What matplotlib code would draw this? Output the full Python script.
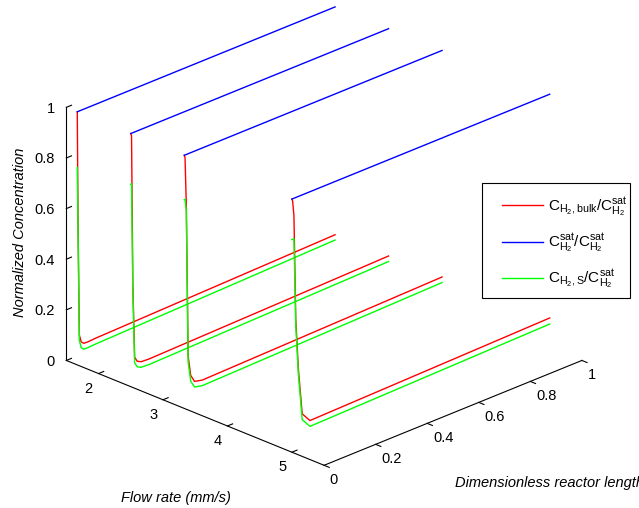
import numpy as np
import matplotlib
matplotlib.use("Agg")
import matplotlib.pyplot as plt
from matplotlib.legend_handler import HandlerLine2D
from matplotlib.patches import Rectangle

plt.rcParams['font.family'] = ['Liberation Sans', 'DejaVu Sans']
plt.rcParams['font.size'] = 10.5
plt.rcParams['mathtext.fontset'] = 'custom'
plt.rcParams['mathtext.rm'] = 'Liberation Sans'
plt.rcParams['mathtext.it'] = 'Liberation Sans:italic'

# flow rates (mm/s) of the four runs
flow_rates = [1.67, 2.5, 3.33, 5.0]

# dimensionless reactor length sample points
length = [0.0, 0.003, 0.008, 0.015, 0.025, 0.04, 0.07, 1.0]

# bulk H2 concentration, normalised by saturation
c_bulk = [
    [1.00, 0.55, 0.115, 0.085, 0.075, 0.074, 0.076, 0.100],
    [1.00, 0.99, 0.40, 0.110, 0.090, 0.082, 0.080, 0.102],
    [1.00, 0.99, 0.80, 0.200, 0.120, 0.090, 0.083, 0.105],
    [1.00, 0.99, 0.93, 0.520, 0.320, 0.135, 0.096, 0.116],
]

# surface H2 concentration, normalised by saturation
c_surf = [
    [0.78, 0.53, 0.095, 0.062, 0.052, 0.051, 0.053, 0.079],
    [0.80, 0.80, 0.38, 0.088, 0.068, 0.060, 0.058, 0.080],
    [0.825, 0.825, 0.78, 0.178, 0.097, 0.068, 0.061, 0.083],
    [0.84, 0.84, 0.84, 0.500, 0.300, 0.112, 0.073, 0.092],
]

# saturation concentration over itself
sat_length = [0.0, 1.0]
c_sat = [1.0, 1.0]

labels = [r'$\mathrm{C_{H_2,bulk}/C_{H_2}^{sat}}$',
          r'$\mathrm{C_{H_2}^{sat}/C_{H_2}^{sat}}$',
          r'$\mathrm{C_{H_2,S}/C_{H_2}^{sat}}$']

fig = plt.figure(figsize=(6.39, 5.08), dpi=100)
size = 600
cx, cy = 316, 242
ax = fig.add_axes([(cx - size / 2) / 639, (508 - cy - size / 2) / 508, size / 639, size / 508],
                  projection='3d', computed_zorder=False)
ax.set_proj_type('ortho')
ax.view_init(elev=24, azim=-45)
ax.set_box_aspect((1, 1, 0.76), zoom=0.947)

# plot order red, blue, green so the surface curve sits on top
red, green, blue = '#ff0000', '#00ff00', '#0000ff'
for i, f in enumerate(flow_rates):
    n = len(length)
    h1, = ax.plot(np.full(n, f), length, c_bulk[i], color=red, lw=1.0)
    h2, = ax.plot(np.full(2, f), sat_length, c_sat, color=blue, lw=1.0)
    h3, = ax.plot(np.full(n, f), length, c_surf[i], color=green, lw=1.0)

ax.set_xlim(1.5, 5.5)
ax.set_ylim(0, 1)
ax.set_zlim(0, 1)
ax.set_xticks([2, 3, 4, 5])
ax.set_yticks([0, 0.2, 0.4, 0.6, 0.8, 1])
ax.set_zticks([0, 0.2, 0.4, 0.6, 0.8, 1])
ax.set_xticklabels(['2', '3', '4', '5'], ha='right')
ax.set_yticklabels(['0', '0.2', '0.4', '0.6', '0.8', '1'], ha='left')
ax.set_zticklabels(['0', '0.2', '0.4', '0.6', '0.8', '1'], ha='right',
                   va='center_baseline')
ax.zaxis.set_ticks_position('lower')
ax.tick_params(axis='both', pad=-3)
ax.tick_params(axis='z', pad=-3)
ax.grid(False)
tick_dirs = {'x': (0.0, 0.25), 'y': (0.25, 0.0), 'z': (0.0, 0.25)}
for axis in (ax.xaxis, ax.yaxis, ax.zaxis):
    axis.set_pane_color((1, 1, 1, 0))
    axis.pane.set_edgecolor((1, 1, 1, 0))
    axis.line.set_color('black')
    axis.line.set_linewidth(0.8)
    inward, outward = tick_dirs[axis.axis_name]
    axis._axinfo['tick']['inward_factor'] = inward
    axis._axinfo['tick']['outward_factor'] = outward

fig.text(20 / 639, 1 - 232 / 508, 'Normalized Concentration', rotation=90,
         ha='center', va='center', style='italic')
fig.text(176 / 639, 1 - 498 / 508, 'Flow rate (mm/s)', ha='center', va='center',
         style='italic')
fig.text(455 / 639, 1 - 483 / 508, 'Dimensionless reactor length', ha='left',
         va='center', style='italic')

# legend entries without frame, box drawn separately
leg = fig.legend([h1, h2, h3], labels, loc='upper left',
                 bbox_to_anchor=(482 / 639, 1 - 183 / 508), frameon=False,
                 fontsize=11, handlelength=3.16, handletextpad=0.33,
                 labelspacing=0.85, borderpad=0.83, borderaxespad=0,
                 handler_map={h: HandlerLine2D(xpad=0.48) for h in (h1, h2, h3)})
fig.patches.append(Rectangle((482 / 639, 1 - 298 / 508), 148 / 639, 115 / 508,
                             transform=fig.transFigure, fill=False,
                             edgecolor='black', linewidth=0.8))

fig.savefig('out.png', dpi=100)
